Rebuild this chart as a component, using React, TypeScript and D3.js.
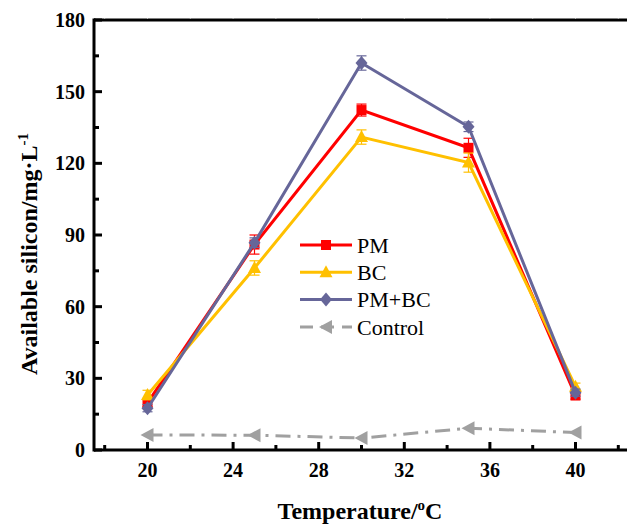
import React from 'react';
import * as d3 from 'd3';

const temps = [20, 25, 30, 35, 40];
const pmVals = [19.7, 86, 142.3, 126.5, 22.8];
const pmErr = [1.5, 4, 2.5, 4, 1.5];
const bcVals = [23, 76.2, 131, 120.3, 26.5];
const bcErr = [2, 3, 3, 4, 1.5];
const pmbcVals = [17.5, 86.8, 162, 135.3, 24];
const pmbcErr = [1.5, 2, 3, 2, 1.5];
const ctrlVals = [6.3, 6.2, 5, 9.1, 7.3];

const xMajor = [20, 24, 28, 32, 36, 40];
const xMinor = [18, 22, 26, 30, 34, 38, 42];
const yMajor = [0, 30, 60, 90, 120, 150, 180];
const yMinor = [15, 45, 75, 105, 135, 165];

const W = 627, H = 526;
const m = { left: 94, top: 20, right: 629, bottom: 450 };
const FONT = "'Liberation Serif', 'Times New Roman', serif";

const series = [
  { name: 'PM', vals: pmVals, err: pmErr, color: '#ff0000', shape: 'square', dash: null },
  { name: 'BC', vals: bcVals, err: bcErr, color: '#ffc000', shape: 'triangle', dash: null },
  { name: 'PM+BC', vals: pmbcVals, err: pmbcErr, color: '#666699', shape: 'diamond', dash: null },
  { name: 'Control', vals: ctrlVals, err: null, color: '#a0a0a0', shape: 'left', dash: '15,7,3,7' },
];

function Marker({ shape, x, y, color }) {
  if (shape === 'square') return <rect x={x - 5} y={y - 5} width={10} height={10} fill={color} />;
  if (shape === 'triangle') return <path d={`M${x},${y - 7}L${x + 6.5},${y + 5}L${x - 6.5},${y + 5}Z`} fill={color} />;
  if (shape === 'diamond') return <path d={`M${x},${y - 7}L${x + 6},${y}L${x},${y + 7}L${x - 6},${y}Z`} fill={color} />;
  return <path d={`M${x - 7},${y}L${x + 6},${y - 7}L${x + 6},${y + 7}Z`} fill={color} />;
}

const bold = { fontFamily: FONT, fontWeight: 700 as const };

export default function App() {
  const x = d3.scaleLinear().domain([17.5, 42.5]).range([m.left, m.right]);
  const y = d3.scaleLinear().domain([0, 180]).range([m.bottom, m.top]);
  const line = d3.line<number>().x((_, i) => x(temps[i])).y(v => y(v));

  const legX = 300, legY0 = 245, legStep = 27.3;

  return (
    <svg width={W} height={H} style={{ position: 'absolute', left: 0, top: 0, background: '#fff', fontFamily: FONT }}>
      {/* top frame */}
      <line x1={m.left} x2={W} y1={m.top} y2={m.top} stroke="#000" strokeWidth={3} />
      {[...xMajor, ...xMinor].map(t => (
        <line key={'tt' + t} x1={x(t)} x2={x(t)} y1={m.top - 2} y2={m.top - 1} stroke="#bbb" strokeWidth={1} />
      ))}
      {/* series */}
      {series.map(s => (
        <g key={s.name}>
          <path d={line(s.vals) || ''} fill="none" stroke={s.color} strokeWidth={3}
            strokeDasharray={s.dash || undefined} />
          {s.err && s.vals.map((v, i) => (
            <g key={i} stroke={s.color} strokeWidth={1.2}>
              <line x1={x(temps[i])} x2={x(temps[i])} y1={y(v + s.err[i])} y2={y(v - s.err[i])} />
              <line x1={x(temps[i]) - 5} x2={x(temps[i]) + 5} y1={y(v + s.err[i])} y2={y(v + s.err[i])} />
              <line x1={x(temps[i]) - 5} x2={x(temps[i]) + 5} y1={y(v - s.err[i])} y2={y(v - s.err[i])} />
            </g>
          ))}
          {s.vals.map((v, i) => (
            <Marker key={i} shape={s.shape} x={x(temps[i])} y={y(v)} color={s.color} />
          ))}
        </g>
      ))}
      {/* axes */}
      <line x1={m.left} x2={m.left} y1={m.top - 1.5} y2={m.bottom + 1.5} stroke="#000" strokeWidth={3} />
      <line x1={m.left} x2={W} y1={m.bottom} y2={m.bottom} stroke="#000" strokeWidth={3} />
      {yMajor.map(t => (
        <g key={'y' + t}>
          <line x1={m.left} x2={m.left + 8} y1={y(t)} y2={y(t)} stroke="#000" strokeWidth={3} />
          <text x={m.left - 9} y={y(t)} dy="0.35em" textAnchor="end" fontSize={20} style={bold}>{t}</text>
        </g>
      ))}
      {yMinor.map(t => (
        <line key={'ym' + t} x1={m.left} x2={m.left + 5} y1={y(t)} y2={y(t)} stroke="#000" strokeWidth={3} />
      ))}
      {xMajor.map(t => (
        <g key={'x' + t}>
          <line x1={x(t)} x2={x(t)} y1={m.bottom} y2={m.bottom - 8} stroke="#000" strokeWidth={3} />
          <text x={x(t)} y={m.bottom + 27} textAnchor="middle" fontSize={20} style={bold}>{t}</text>
        </g>
      ))}
      {xMinor.map(t => (
        <line key={'xm' + t} x1={x(t)} x2={x(t)} y1={m.bottom} y2={m.bottom - 5} stroke="#000" strokeWidth={3} />
      ))}
      {/* axis titles */}
      <text x={360} y={519} textAnchor="middle" fontSize={24} style={bold}>
        Temperature/<tspan dy={-9} fontSize={15}>o</tspan><tspan dy={9}>C</tspan>
      </text>
      <text transform={`translate(37,${254}) rotate(-90)`} textAnchor="middle" fontSize={24} style={bold}>
        Available silicon/mg·L<tspan dy={-9} fontSize={15}>-1</tspan>
      </text>
      {/* legend */}
      {series.map((s, i) => {
        const ly = legY0 + i * legStep;
        return (
          <g key={'leg' + s.name}>
            <line x1={legX} x2={legX + 52} y1={ly} y2={ly} stroke={s.color} strokeWidth={3}
              strokeDasharray={s.dash ? '13,8' : undefined} />
            <Marker shape={s.shape} x={legX + 26} y={ly} color={s.color} />
            <text x={legX + 57} y={ly} dy="0.35em" fontSize={22} style={{ fontFamily: FONT }}>{s.name}</text>
          </g>
        );
      })}
    </svg>
  );
}
